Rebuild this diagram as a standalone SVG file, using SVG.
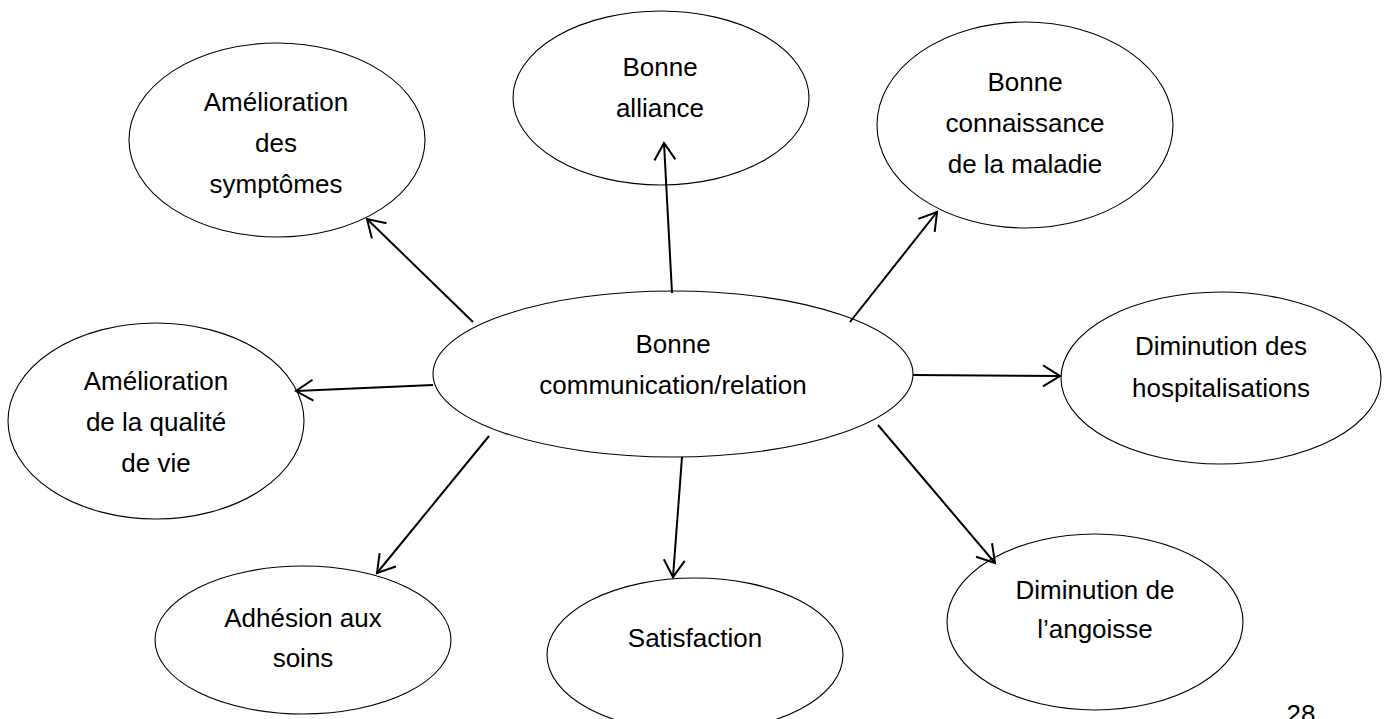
<svg xmlns="http://www.w3.org/2000/svg" width="1387" height="719" viewBox="0 0 1387 719">
<style>
.n{fill:#fff;stroke:#000;stroke-width:1.1}
.t{font-family:"Liberation Sans",Arial,sans-serif;font-size:26px;fill:#000;text-anchor:middle}
.c line{stroke:#000;stroke-width:2;fill:none}
</style>
<defs>
<marker id="a" markerWidth="24" markerHeight="24" refX="20" refY="12" orient="auto" markerUnits="userSpaceOnUse">
<path d="M3,1.5 L20,12 L3,22.5" fill="none" stroke="#000" stroke-width="2"/>
</marker>
</defs>
<rect width="1387" height="719" fill="#fff"/>
<g id="n1"><ellipse class="n" cx="277" cy="140" rx="148" ry="97"/>
<text class="t" x="276" y="111">Amélioration</text><text class="t" x="276" y="152">des</text><text class="t" x="276" y="193">symptômes</text></g>
<g id="n2"><ellipse class="n" cx="661" cy="98" rx="148" ry="87"/>
<text class="t" x="660" y="76">Bonne</text><text class="t" x="660" y="117">alliance</text></g>
<g id="n3"><ellipse class="n" cx="1025" cy="125" rx="148" ry="103"/>
<text class="t" x="1025" y="91">Bonne</text><text class="t" x="1025" y="132">connaissance</text><text class="t" x="1025" y="173">de la maladie</text></g>
<g id="n4"><ellipse class="n" cx="673" cy="374" rx="240" ry="83"/>
<text class="t" x="673" y="353">Bonne</text><text class="t" x="673" y="394">communication/relation</text></g>
<g id="n5"><ellipse class="n" cx="156" cy="421" rx="148" ry="98"/>
<text class="t" x="156" y="390">Amélioration</text><text class="t" x="156" y="431">de la qualité</text><text class="t" x="156" y="472">de vie</text></g>
<g id="n6"><ellipse class="n" cx="1221" cy="378" rx="160" ry="86"/>
<text class="t" x="1221" y="355">Diminution des</text><text class="t" x="1221" y="397">hospitalisations</text></g>
<g id="n7"><ellipse class="n" cx="303" cy="640" rx="148" ry="74"/>
<text class="t" x="303" y="627">Adhésion aux</text><text class="t" x="303" y="667">soins</text></g>
<g id="n8"><ellipse class="n" cx="695" cy="655" rx="148" ry="77"/>
<text class="t" x="695" y="647">Satisfaction</text></g>
<g id="n9"><ellipse class="n" cx="1095" cy="622" rx="148" ry="88"/>
<text class="t" x="1095" y="599">Diminution de</text><text class="t" x="1095" y="638">l’angoisse</text></g>
<g class="c" id="connectors">
<line x1="473" y1="322" x2="367" y2="219" marker-end="url(#a)"/>
<line x1="672" y1="293" x2="664" y2="143" marker-end="url(#a)"/>
<line x1="850" y1="322" x2="937" y2="212" marker-end="url(#a)"/>
<line x1="913" y1="375" x2="1060" y2="376" marker-end="url(#a)"/>
<line x1="433" y1="385" x2="296" y2="391" marker-end="url(#a)"/>
<line x1="489" y1="436" x2="377" y2="573" marker-end="url(#a)"/>
<line x1="682" y1="457" x2="673" y2="577" marker-end="url(#a)"/>
<line x1="878" y1="425" x2="995" y2="563" marker-end="url(#a)"/>
</g>
<text class="t" x="1301" y="723">28</text>
</svg>
